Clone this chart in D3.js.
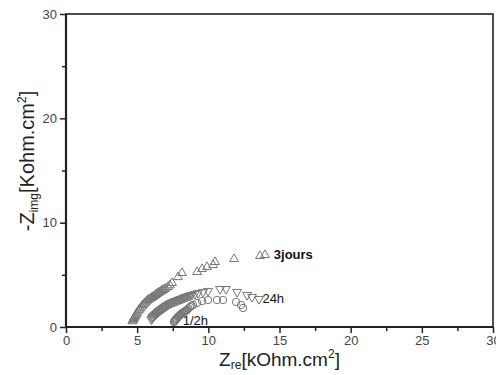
<!DOCTYPE html>
<html>
<head>
<meta charset="utf-8">
<script src="https://cdn.jsdelivr.net/npm/d3@7"></script>
<style>
  body { margin: 0; background: #fff; }
  text { font-family: Arial, "Liberation Sans", sans-serif; }
</style>
</head>
<body>
<div id="chart"></div>
<script>
// Nyquist data, [Zre, -Zimg] in kOhm.cm2
var jours3 = [[4.66, 0.55], [4.70, 0.66], [4.74, 0.76], [4.78, 0.86], [4.82, 0.95], [4.87, 1.06],
    [4.92, 1.18], [4.98, 1.32], [5.06, 1.50], [5.14, 1.66], [5.22, 1.80], [5.32, 1.96],
    [5.41, 2.11], [5.50, 2.24], [5.58, 2.35], [5.67, 2.47], [5.76, 2.59], [5.86, 2.68],
    [5.95, 2.75], [6.03, 2.82], [6.11, 2.88], [6.20, 2.98], [6.30, 3.08], [6.38, 3.17],
    [6.47, 3.26], [6.56, 3.33], [6.65, 3.40], [6.74, 3.48], [6.82, 3.55], [6.91, 3.63],
    [7.00, 3.70], [7.17, 3.84], [7.30, 4.00], [7.45, 4.22],
    [7.87, 4.79], [8.15, 5.18], [9.21, 5.27], [9.56, 5.56], [9.91, 5.75], [10.33, 5.94],
    [10.47, 6.23], [11.81, 6.52], [13.63, 6.81], [13.98, 6.90]];
var h24 = [[6.00, 0.72], [6.04, 0.82], [6.08, 0.92], [6.12, 1.00], [6.18, 1.08], [6.25, 1.15],
    [6.30, 1.23], [6.36, 1.30], [6.42, 1.37], [6.47, 1.44], [6.54, 1.52], [6.60, 1.60],
    [6.68, 1.67], [6.75, 1.73], [6.82, 1.81], [6.90, 1.88], [6.96, 1.95], [7.03, 2.01],
    [7.12, 2.09], [7.20, 2.16], [7.29, 2.23], [7.38, 2.30], [7.46, 2.35], [7.55, 2.40],
    [7.64, 2.45], [7.73, 2.49], [7.82, 2.54], [7.90, 2.59], [8.00, 2.64], [8.08, 2.68],
    [8.17, 2.73], [8.25, 2.78], [8.34, 2.83], [8.43, 2.88], [8.54, 2.93], [8.65, 2.98],
    [8.75, 3.03], [8.85, 3.07], [9.05, 3.17], [9.28, 3.26], [9.63, 3.36], [9.98, 3.45],
    [10.82, 3.64], [11.24, 3.64], [12.02, 3.36], [12.72, 3.07], [13.07, 2.88], [13.56, 2.68]];
var h05 = [[7.58, 0.48], [7.62, 0.55], [7.66, 0.62], [7.70, 0.70], [7.75, 0.78], [7.80, 0.86],
    [7.87, 0.96], [7.94, 1.05], [8.01, 1.15], [8.08, 1.25], [8.13, 1.30], [8.18, 1.35],
    [8.24, 1.40], [8.29, 1.44], [8.35, 1.49], [8.40, 1.54], [8.45, 1.58], [8.50, 1.63],
    [8.60, 1.78], [8.71, 1.92], [8.82, 2.02], [8.92, 2.11], [9.21, 2.30], [9.56, 2.49],
    [9.98, 2.59], [10.61, 2.59], [11.03, 2.59], [11.95, 2.40], [12.30, 2.11], [12.44, 1.82]];
var seriesNames = ["3jours", "24h", "1/2h"];
var labelAt = [[14.6, 7.0], [13.8, 2.7], [8.2, 0.6]];
var xTicks = [0, 5, 10, 15, 20, 25, 30];
var yTicks = [0, 10, 20, 30];

var width = 496, height = 375;
var margin = { top: 14, right: 3, bottom: 48, left: 66 };
var w = width - margin.left - margin.right,
    h = height - margin.top - margin.bottom;

var x = d3.scaleLinear().domain([0, 30]).range([0, w]);
var y = d3.scaleLinear().domain([0, 30]).range([h, 0]);

var svg = d3.select("#chart").append("svg")
    .attr("width", width)
    .attr("height", height);

var g = svg.append("g")
    .attr("transform", "translate(" + margin.left + "," + margin.top + ")");

// minor ticks
g.append("g")
    .attr("transform", "translate(0," + h + ")")
    .call(d3.axisBottom(x).tickValues(d3.range(2.5, 30, 5)).tickSize(4).tickFormat(""))
    .call(a => a.select(".domain").remove())
    .selectAll("line").attr("stroke", "#222").attr("stroke-width", 1.5);
g.append("g")
    .call(d3.axisLeft(y).tickValues([5, 15, 25]).tickSize(4).tickFormat(""))
    .call(a => a.select(".domain").remove())
    .selectAll("line").attr("stroke", "#222").attr("stroke-width", 1.5);

// major axes
var xa = g.append("g")
    .attr("transform", "translate(0," + h + ")")
    .call(d3.axisBottom(x).tickValues(xTicks).tickSize(6).tickPadding(3));
var ya = g.append("g")
    .call(d3.axisLeft(y).tickValues(yTicks).tickSize(6).tickPadding(3));
[xa, ya].forEach(function (a) {
    a.select(".domain").remove();
    a.selectAll("line").attr("stroke", "#222").attr("stroke-width", 1.5);
    a.selectAll("text").attr("fill", "#444").style("font-size", "13px");
});

// frame
g.append("rect")
    .attr("width", w).attr("height", h)
    .attr("fill", "none").attr("stroke", "#222").attr("stroke-width", 1.6);
g.append("line").attr("x1", 0).attr("x2", w).attr("y1", h).attr("y2", h)
    .attr("stroke", "#222").attr("stroke-width", 2.2);
g.append("line").attr("x1", 0).attr("x2", 0).attr("y1", 0).attr("y2", h)
    .attr("stroke", "#222").attr("stroke-width", 2.2);

// markers
var tri = d3.symbol().type(d3.symbolTriangle).size(34);
var col = "#777";

g.append("g").selectAll("path")
    .data(jours3).join("path")
    .attr("d", tri)
    .attr("transform", d => "translate(" + x(d[0]) + "," + y(d[1]) + ")")
    .attr("fill", "none").attr("stroke", col).attr("stroke-width", 1);

g.append("g").selectAll("path")
    .data(h24).join("path")
    .attr("d", tri)
    .attr("transform", d => "translate(" + x(d[0]) + "," + y(d[1]) + ") rotate(180)")
    .attr("fill", "none").attr("stroke", col).attr("stroke-width", 1);

g.append("g").selectAll("circle")
    .data(h05).join("circle")
    .attr("cx", d => x(d[0]))
    .attr("cy", d => y(d[1]))
    .attr("r", 3.7)
    .attr("fill", "none").attr("stroke", col).attr("stroke-width", 1);

// series labels
g.selectAll(".lbl")
    .data(seriesNames).join("text")
    .attr("class", "lbl")
    .attr("x", (d, i) => x(labelAt[i][0]))
    .attr("y", (d, i) => y(labelAt[i][1]))
    .attr("dy", "0.35em")
    .attr("fill", "#111")
    .style("font-size", "13px")
    .style("font-weight", (d, i) => i == 0 ? "bold" : "normal")
    .text(d => d);

// axis titles
var xt = svg.append("text")
    .attr("x", margin.left + w / 2)
    .attr("y", 366)
    .attr("text-anchor", "middle")
    .attr("fill", "#222")
    .style("font-size", "19px");
xt.append("tspan").text("Z");
xt.append("tspan").attr("dy", 3).style("font-size", "12px").text("re");
xt.append("tspan").attr("dy", -3).text("[kOhm.cm");
xt.append("tspan").attr("dy", -8).style("font-size", "12px").text("2");
xt.append("tspan").attr("dy", 8).text("]");

var yt = svg.append("text")
    .attr("transform", "translate(34,161) rotate(-90)")
    .attr("text-anchor", "middle")
    .attr("fill", "#222")
    .style("font-size", "20px");
yt.append("tspan").text("-Z");
yt.append("tspan").attr("dy", 4).style("font-size", "12px").text("img");
yt.append("tspan").attr("dy", -4).text("[Kohm.cm");
yt.append("tspan").attr("dy", -8).style("font-size", "12px").text("2");
yt.append("tspan").attr("dy", 8).text("]");
</script>
</body>
</html>
